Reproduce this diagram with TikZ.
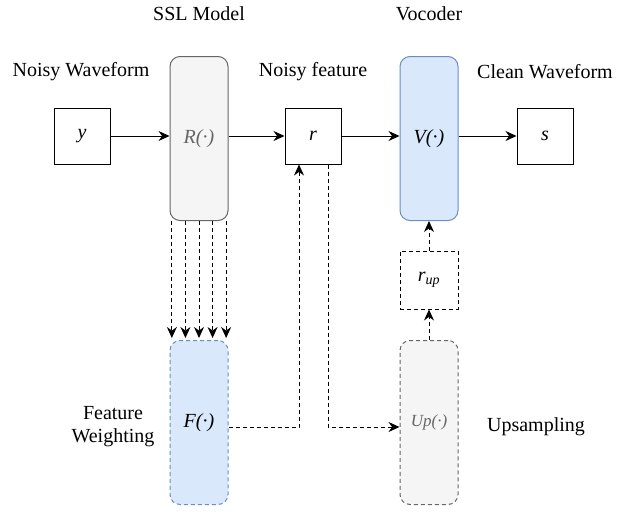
\documentclass[tikz,border=0pt]{standalone}
\usepackage{fontspec}
\setmainfont{Liberation Serif}
\usetikzlibrary{arrows.meta,calc}
\definecolor{grayfill}{HTML}{F5F5F5}
\definecolor{graydraw}{HTML}{666666}
\definecolor{bluefill}{HTML}{DAE8FC}
\definecolor{bluedraw}{HTML}{6C8EBF}
\begin{document}
\begin{tikzpicture}[x=1pt,y=-1pt,
  every node/.style={font=\fontsize{20}{23}\selectfont},
  sq/.style={draw=black,line width=1pt,minimum width=56pt,minimum height=56pt,inner sep=0pt,font=\fontsize{20}{23}\selectfont\itshape},
  tall/.style={rounded corners=10pt,line width=1pt,minimum width=58pt,minimum height=164pt,inner sep=0pt,font=\fontsize{20}{23}\selectfont\itshape},
  lbl/.style={inner sep=0pt,align=center},
  arr/.style={line width=1pt,-{Stealth[length=11pt,width=10pt]}},
  darr/.style={arr,dashed,dash pattern=on 4pt off 3pt}
]
\useasboundingbox (0,0) rectangle (632,517);
% top row
\node[sq] (y) at (82,136) {y};
\node[tall,fill=grayfill,draw=graydraw,text=graydraw] (R) at (199,138.5) {R(·)};
\node[sq] (r) at (313,136) {r};
\node[tall,fill=bluefill,draw=bluedraw] (V) at (429,138.5) {V(·)};
\node[sq] (s) at (545,136) {s};
% lower
\node[tall,fill=bluefill,draw=bluedraw,dashed,dash pattern=on 4pt off 3pt] (F) at (199,422.5) {F(·)};
\node[sq,dashed,dash pattern=on 4pt off 3pt,minimum width=58pt,minimum height=58pt] (rup) at (429,280) {r\textsubscript{up}};
\node[tall,fill=grayfill,draw=graydraw,text=graydraw,dashed,dash pattern=on 4pt off 3pt,font=\fontsize{17}{20}\selectfont\itshape] (U) at (429,422.5) {Up(·)};
% labels
\node[lbl] (l1) at (81,72) {Noisy Waveform};
\node[lbl] (l2) at (199,14) {SSL Model};
\node[lbl] (l3) at (313,72) {Noisy feature};
\node[lbl] (l4) at (429,14) {Vocoder};
\node[lbl] (l5) at (545,72) {Clean Waveform};
\node[lbl] (l6) at (113,427) {Feature\\Weighting};
\node[lbl] (l7) at (536,427) {Upsampling};
% connectors
\draw[arr] (y.east) -- (R.west |- y.east);
\draw[arr] (R.east |- r.west) -- (r.west);
\draw[arr] (r.east) -- (V.west |- r.east);
\draw[arr] (V.east |- s.west) -- (s.west);
\foreach \f in {0.04,0.27,0.5,0.73,0.96}{
  \draw[darr] ($(R.south west)!\f!(R.south east)$) -- ($(F.north west)!\f!(F.north east)+(0,-2)$);
}
\coordinate (c1) at (299,427);
\draw[darr] (F.east |- c1) -- (c1) -- (c1 |- r.south);
\coordinate (c2) at (328,427);
\draw[darr] (c2 |- r.south) -- (c2) -- (U.west |- c2);
\draw[darr] (U) -- (rup);
\draw[darr] (rup) -- (V);
\end{tikzpicture}
\end{document}
